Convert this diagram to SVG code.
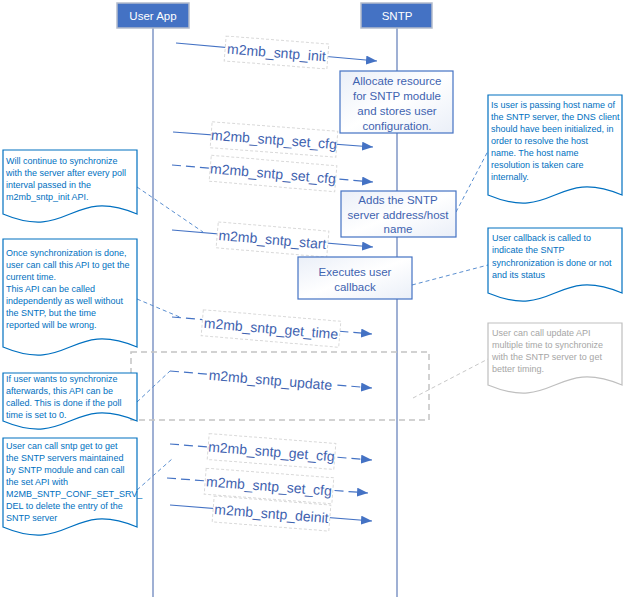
<svg xmlns="http://www.w3.org/2000/svg" width="624" height="600" viewBox="0 0 624 600">
<style>
.hdr{fill:#4472C4;stroke:#b4bccb;stroke-width:1.5}
.hdrt{fill:#ffffff;font-family:"Liberation Sans",Arial,sans-serif;font-size:11.5px;text-anchor:middle}
.life{stroke:#9fb0d4;stroke-width:2;fill:none}
.msg{stroke:#4472C4;stroke-width:1.2;fill:none}
.dash{stroke-dasharray:9,5}
.lbl{fill:#ffffff;stroke:#d9d9d9;stroke-width:1;stroke-dasharray:3,2}
.lblt{fill:#3f63b0;font-family:"Liberation Sans",Arial,sans-serif;font-size:14px;text-anchor:middle}
.act{fill:url(#ag);stroke:#4472C4;stroke-width:1.2}
.actt{fill:#3f63b0;font-family:"Liberation Sans",Arial,sans-serif;font-size:11.5px;text-anchor:middle}
.note{fill:#ffffff;stroke:#0070C0;stroke-width:1.2}
.notet{fill:#0070C0;font-family:"Liberation Sans",Arial,sans-serif;font-size:9px}
.gnote{fill:#ffffff;stroke:#bfbfbf;stroke-width:1.2}
.gnotet{fill:#a6a6a6;font-family:"Liberation Sans",Arial,sans-serif;font-size:9px}
.conn{stroke:#5b8fd0;stroke-width:1;stroke-dasharray:4,3;fill:none}
.gconn{stroke:#c8c8c8;stroke-width:1;stroke-dasharray:4,3;fill:none}
</style>
<defs>
<linearGradient id="ag" x1="0" y1="0" x2="1" y2="1">
<stop offset="0" stop-color="#eaeff8"/>
<stop offset="0.5" stop-color="#ffffff"/>
<stop offset="1" stop-color="#eaeff8"/>
</linearGradient>
<marker id="arr" markerUnits="userSpaceOnUse" markerWidth="12" markerHeight="10" refX="11" refY="4.5" orient="auto">
<path d="M0,0 L11,4.5 L0,9 Z" fill="#4472C4"/>
</marker>
</defs>

<g id="lifelines">
<line class="life" x1="153" y1="28" x2="153" y2="597"/>
<line class="life" x1="397" y1="28" x2="397" y2="597"/>
</g>

<g id="useragent">
<rect class="hdr" x="117" y="3" width="72" height="25"/>
<text class="hdrt" x="153" y="20">User App</text>
</g>
<g id="sntp">
<rect class="hdr" x="361" y="3" width="71" height="25"/>
<text class="hdrt" x="397" y="20">SNTP</text>
</g>

<g id="update-frame">
<rect x="131" y="352" width="298" height="68" fill="none" stroke="#c4c4c4" stroke-width="1.5" stroke-dasharray="6,4"/>
</g>

<g id="connectors">
<line class="msg" x1="176" y1="43" x2="377" y2="61" marker-end="url(#arr)"/>
<line class="msg" x1="173" y1="132" x2="373" y2="147" marker-end="url(#arr)"/>
<line class="msg dash" x1="172" y1="165" x2="373" y2="182" marker-end="url(#arr)"/>
<line class="msg" x1="172" y1="230" x2="373" y2="247" marker-end="url(#arr)"/>
<line class="msg dash" x1="172" y1="317" x2="372" y2="334" marker-end="url(#arr)"/>
<line class="msg dash" x1="170" y1="371" x2="372" y2="388" marker-end="url(#arr)"/>
<line class="msg dash" x1="170" y1="444" x2="372" y2="460" marker-end="url(#arr)"/>
<line class="msg dash" x1="167" y1="478" x2="368" y2="493" marker-end="url(#arr)"/>
<line class="msg" x1="170" y1="505" x2="372" y2="521" marker-end="url(#arr)"/>

<g transform="translate(276.5,52.5) rotate(4.5)"><rect class="lbl" x="-51.5" y="-12.5" width="103" height="25"/><text class="lblt" x="0" y="5">m2mb_sntp_init</text></g>
<g transform="translate(274,139.5) rotate(4.3)"><rect class="lbl" x="-63" y="-13" width="126" height="26"/><text class="lblt" x="0" y="5">m2mb_sntp_set_cfg</text></g>
<g transform="translate(273,173.5) rotate(4.8)"><rect class="lbl" x="-63" y="-13" width="126" height="26"/><text class="lblt" x="0" y="5">m2mb_sntp_set_cfg</text></g>
<g transform="translate(272.5,239.5) rotate(4.8)"><rect class="lbl" x="-55.5" y="-13" width="111" height="26"/><text class="lblt" x="0" y="5">m2mb_sntp_start</text></g>
<g transform="translate(271,328.5) rotate(4.8)"><rect class="lbl" x="-69" y="-13" width="138" height="26"/><text class="lblt" x="0" y="5">m2mb_sntp_get_time</text></g>
<g transform="translate(270.5,380) rotate(4.8)"><rect x="-63" y="-9" width="126" height="18" fill="#ffffff"/><text class="lblt" x="0" y="5">m2mb_sntp_update</text></g>
<g transform="translate(271.5,451.5) rotate(4.5)"><rect class="lbl" x="-63.5" y="-13" width="127" height="26"/><text class="lblt" x="0" y="5">m2mb_sntp_get_cfg</text></g>
<g transform="translate(269,486) rotate(4.3)"><rect class="lbl" x="-64" y="-13" width="128" height="26"/><text class="lblt" x="0" y="5">m2mb_sntp_set_cfg</text></g>
<g transform="translate(271.5,513.5) rotate(4.5)"><rect class="lbl" x="-58.5" y="-13" width="117" height="26"/><text class="lblt" x="0" y="5">m2mb_sntp_deinit</text></g>

<line class="conn" x1="137" y1="187" x2="203" y2="232"/>
<line class="conn" x1="137" y1="299" x2="182" y2="318"/>
<line class="conn" x1="137" y1="402" x2="170" y2="371"/>
<line class="conn" x1="137" y1="490" x2="172" y2="459"/>
<line class="conn" x1="456" y1="212" x2="488" y2="151"/>
<line class="conn" x1="412" y1="285" x2="488" y2="265"/>
<line class="gconn" x1="413" y1="398" x2="488" y2="359"/>
</g>

<g id="act-init">
<rect class="act" x="340" y="71" width="113" height="62"/>
<text class="actt" x="397" y="84.5">Allocate resource</text>
<text class="actt" x="397" y="99.5">for SNTP module</text>
<text class="actt" x="397" y="115">and stores user</text>
<text class="actt" x="397" y="130">configuration.</text>
</g>
<g id="act-server">
<rect class="act" x="341" y="191" width="115" height="46"/>
<text class="actt" x="398" y="204">Adds the SNTP</text>
<text class="actt" x="398" y="218.5">server address/host</text>
<text class="actt" x="398" y="233">name</text>
</g>
<g id="act-callback">
<rect class="act" x="298" y="257" width="114" height="42"/>
<text class="actt" x="355" y="276">Executes user</text>
<text class="actt" x="355" y="291">callback</text>
</g>

<g id="note-poll">
<path class="note" d="M3,150 H137 V214 C70,186 70,242 3,214 Z"/>
<text class="notet" x="6" y="163.5">Will continue to synchronize</text>
<text class="notet" x="6" y="175.5">with the server after every poll</text>
<text class="notet" x="6" y="187.5">interval passed in the</text>
<text class="notet" x="6" y="199.5">m2mb_sntp_init API.</text>
</g>
<g id="note-time">
<path class="note" d="M3,239 H137 V347 C70,319 70,375 3,347 Z"/>
<text class="notet" x="6" y="255.5">Once synchronization is done,</text>
<text class="notet" x="6" y="267.5">user can call this API to get the</text>
<text class="notet" x="6" y="279.5">current time.</text>
<text class="notet" x="6" y="291.5">This API can be called</text>
<text class="notet" x="6" y="303.5">independently as well without</text>
<text class="notet" x="6" y="315.5">the SNTP, but the time</text>
<text class="notet" x="6" y="328">reported will be wrong.</text>
</g>
<g id="note-update">
<path class="note" d="M3,373 H137 V421 C70,393 70,449 3,421 Z"/>
<text class="notet" x="6" y="381.5">If user wants to synchronize</text>
<text class="notet" x="6" y="394">afterwards, this API can be</text>
<text class="notet" x="6" y="406">called. This is done if the poll</text>
<text class="notet" x="6" y="417.5">time is set to 0.</text>
</g>
<g id="note-cfg">
<path class="note" d="M3,438 H137 V527 C70,499 70,555 3,527 Z"/>
<text class="notet" x="6" y="448.5">User can call sntp get to get</text>
<text class="notet" x="6" y="460.5">the SNTP servers maintained</text>
<text class="notet" x="6" y="472.5">by SNTP module and can call</text>
<text class="notet" x="6" y="484.5">the set API with</text>
<text class="notet" x="6" y="496.5">M2MB_SNTP_CONF_SET_SRV_</text>
<text class="notet" x="6" y="509">DEL to delete the entry of the</text>
<text class="notet" x="6" y="521">SNTP server</text>
</g>
<g id="note-dns">
<path class="note" d="M488,95 H622 V195 C555,167 555,223 488,195 Z"/>
<text class="notet" x="491" y="107.5">Is user is passing host name of</text>
<text class="notet" x="491" y="119.5">the SNTP server, the DNS client</text>
<text class="notet" x="491" y="131.5">should have been initialized, in</text>
<text class="notet" x="491" y="144">order to resolve the host</text>
<text class="notet" x="491" y="156">name. The host name</text>
<text class="notet" x="491" y="167.5">resolution is taken care</text>
<text class="notet" x="491" y="180">internally.</text>
</g>
<g id="note-callback">
<path class="note" d="M488,228 H622 V293 C555,265 555,321 488,293 Z"/>
<text class="notet" x="492" y="241">User callback is called to</text>
<text class="notet" x="492" y="253">indicate the SNTP</text>
<text class="notet" x="492" y="265.5">synchronization is done or not</text>
<text class="notet" x="492" y="277.5">and its status</text>
</g>
<g id="note-timing">
<path class="gnote" d="M488,323 H622 V385 C555,357 555,413 488,385 Z"/>
<text class="gnotet" x="492" y="335.5">User can call update API</text>
<text class="gnotet" x="492" y="347.5">multiple time to synchronize</text>
<text class="gnotet" x="492" y="360">with the SNTP server to get</text>
<text class="gnotet" x="492" y="372">better timing.</text>
</g>
</svg>
